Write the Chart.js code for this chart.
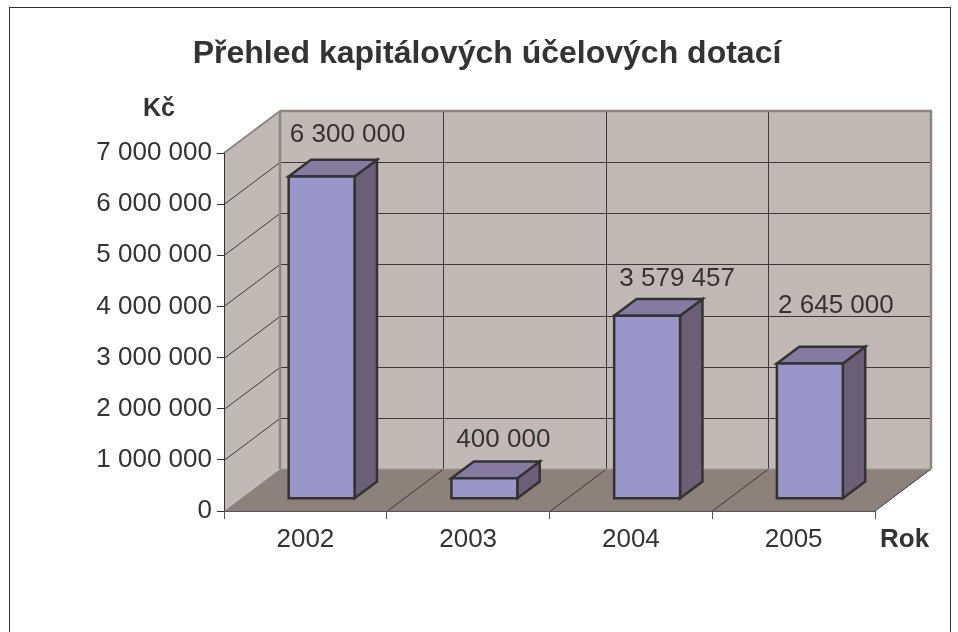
<!DOCTYPE html>
<html>
<head>
<meta charset="utf-8">
<script src="https://cdn.jsdelivr.net/npm/chart.js@4/dist/chart.umd.min.js"></script>
<style>
  body { margin: 0; background: #fff; }
  #wrap { width: 958px; height: 632px; }
</style>
</head>
<body>
<div id="wrap"><canvas id="chart" width="958" height="632"></canvas></div>
<script>
// data
var years = ['2002', '2003', '2004', '2005'];
var dotace = [6300000, 400000, 3579457, 2645000];
var yTicks = [0, 1000000, 2000000, 3000000, 4000000, 5000000, 6000000, 7000000];

var titleText = 'Přehled kapitálových účelových dotací';
var yAxisTitle = 'Kč';
var xAxisTitle = 'Rok';

// small hand nudges for the value labels (px)
var labelNudge = [[0, -3], [-7, 1], [4, 2], [0, -19]];

var FONT = '"Liberation Sans", Arial, Helvetica, sans-serif';
var DEPTH_X = 56, DEPTH_Y = 42;      // 3D depth of the wall/floor
var BAR_F = 0.29, BAR_B = 0.69;      // bar front/back depth as fraction

function fmt(v) {
    return String(v).replace(/\B(?=(\d{3})+(?!\d))/g, ' ');
}

function poly(ctx, pts, fill, stroke, lw) {
    ctx.beginPath();
    ctx.moveTo(pts[0][0], pts[0][1]);
    for (var i = 1; i < pts.length; i++) ctx.lineTo(pts[i][0], pts[i][1]);
    ctx.closePath();
    if (fill) { ctx.fillStyle = fill; ctx.fill(); }
    if (stroke) { ctx.strokeStyle = stroke; ctx.lineWidth = lw || 1; ctx.stroke(); }
}

function line(ctx, x1, y1, x2, y2, color, lw) {
    ctx.beginPath();
    ctx.moveTo(x1, y1);
    ctx.lineTo(x2, y2);
    ctx.strokeStyle = color;
    ctx.lineWidth = lw || 1;
    ctx.stroke();
}

var walls3d = {
    id: 'walls3d',
    beforeDraw: function (chart) {
        var ctx = chart.ctx;
        var a = chart.chartArea;
        var ys = chart.scales.y, xs = chart.scales.x;
        var L = a.left, R = a.right, T = a.top, B = a.bottom;
        ctx.save();
        // outer frame
        ctx.strokeStyle = '#333';
        ctx.lineWidth = 1;
        ctx.strokeRect(9.5, 7.5, 941, 700);

        // back wall
        poly(ctx, [[L + DEPTH_X, T - DEPTH_Y], [R + DEPTH_X, T - DEPTH_Y], [R + DEPTH_X, B - DEPTH_Y], [L + DEPTH_X, B - DEPTH_Y]], '#c1b9b6');
        // left wall
        poly(ctx, [[L, T], [L + DEPTH_X, T - DEPTH_Y], [L + DEPTH_X, B - DEPTH_Y], [L, B]], '#c1b9b6');
        // floor
        poly(ctx, [[L, B], [R, B], [R + DEPTH_X, B - DEPTH_Y], [L + DEPTH_X, B - DEPTH_Y]], '#8d817c');

        // horizontal grid lines on back + left wall
        yTicks.forEach(function (v) {
            if (v === 0 || v === yTicks[yTicks.length - 1]) return;
            var py = Math.round(ys.getPixelForValue(v)) + 0.5;
            line(ctx, L + DEPTH_X, py - DEPTH_Y, R + DEPTH_X, py - DEPTH_Y, '#3a3a3a', 1);
            line(ctx, L, py, L + DEPTH_X, py - DEPTH_Y, '#3a3a3a', 1);
        });

        // category boundaries: back wall verticals + floor diagonals
        var step = (R - L) / years.length;
        for (var i = 1; i < years.length; i++) {
            var bx = Math.round(L + step * i) + 0.5;
            line(ctx, bx + DEPTH_X, T - DEPTH_Y, bx + DEPTH_X, B - DEPTH_Y, '#3a3a3a', 1);
            line(ctx, bx, B, bx + DEPTH_X, B - DEPTH_Y, '#3a3a3a', 1);
        }

        // wall edges
        line(ctx, L + DEPTH_X, T - DEPTH_Y, R + DEPTH_X + 1, T - DEPTH_Y, '#8e8480', 2.5);
        line(ctx, L + DEPTH_X, T - DEPTH_Y, L + DEPTH_X, B - DEPTH_Y, '#8e8480', 2.5);
        line(ctx, R + DEPTH_X, T - DEPTH_Y, R + DEPTH_X, B - DEPTH_Y, '#8e8480', 2.5);
        line(ctx, L, T, L + DEPTH_X, T - DEPTH_Y, '#8e8480', 2);
        line(ctx, R, B, R + DEPTH_X, B - DEPTH_Y, '#3a3a3a', 1);
        line(ctx, L + DEPTH_X, B - DEPTH_Y, R + DEPTH_X, B - DEPTH_Y, '#a39995', 1);
        ctx.restore();
    },
    afterDatasetsDraw: function (chart) {
        var ctx = chart.ctx;
        var meta = chart.getDatasetMeta(0);
        ctx.save();
        ctx.lineJoin = 'miter';
        meta.data.forEach(function (bar, i) {
            var w = bar.width;
            var fx = bar.x + DEPTH_X * BAR_F, fy = -DEPTH_Y * BAR_F;
            var dx = DEPTH_X * (BAR_B - BAR_F), dy = -DEPTH_Y * (BAR_B - BAR_F);
            var x0 = fx - w / 2, x1 = fx + w / 2;
            var top = bar.y + fy, bot = bar.base + fy;
            // side
            poly(ctx, [[x1, top], [x1 + dx, top + dy], [x1 + dx, bot + dy], [x1, bot]], '#6b5f78', '#333', 2.5);
            // top
            poly(ctx, [[x0, top], [x0 + dx, top + dy], [x1 + dx, top + dy], [x1, top]], '#857ba0', '#333', 2.5);
            // front
            poly(ctx, [[x0, top], [x1, top], [x1, bot], [x0, bot]], '#9b96c9', '#333', 2.5);

            // value label
            ctx.font = '26px ' + FONT;
            ctx.fillStyle = '#333';
            ctx.textAlign = 'center';
            ctx.textBaseline = 'alphabetic';
            ctx.fillText(fmt(dotace[i]), fx + 26 + labelNudge[i][0], top - 32 + labelNudge[i][1]);
        });

        // titles
        ctx.fillStyle = '#333';
        ctx.textAlign = 'center';
        ctx.font = 'bold 32px ' + FONT;
        ctx.fillText(titleText, 487, 63);
        ctx.textAlign = 'left';
        ctx.font = 'bold 25px ' + FONT;
        ctx.fillText(yAxisTitle, 143, 116);
        ctx.font = 'bold 26px ' + FONT;
        ctx.fillText(xAxisTitle, 880, 547);
        ctx.restore();
    }
};

var ctx = document.getElementById('chart').getContext('2d');
var chart = new Chart(ctx, {
    type: 'bar',
    data: {
        labels: years,
        datasets: [{
            data: dotace,
            backgroundColor: 'rgba(0,0,0,0)',
            borderWidth: 0,
            categoryPercentage: 1,
            barPercentage: 0.405
        }]
    },
    options: {
        responsive: false,
        animation: false,
        layout: { padding: { left: 0, right: 83, top: 153, bottom: 61 } },
        plugins: {
            legend: { display: false },
            tooltip: { enabled: false },
            title: { display: false }
        },
        scales: {
            y: {
                min: 0,
                max: 7000000,
                afterFit: function (scale) { scale.width = 224; },
                afterBuildTicks: function (scale) {
                    scale.ticks = yTicks.map(function (v) { return { value: v }; });
                },
                grid: { drawOnChartArea: false, drawTicks: true, tickLength: 7, color: '#333' },
                border: { display: true, color: '#333', width: 1 },
                ticks: {
                    padding: 5,
                    color: '#333',
                    font: { family: FONT, size: 26 },
                    callback: function (v) { return fmt(v); }
                }
            },
            x: {
                afterFit: function (scale) { scale.height = 60; },
                grid: { drawOnChartArea: false, drawTicks: true, tickLength: 8, color: '#555', offset: true },
                border: { display: true, color: '#555', width: 1 },
                ticks: {
                    padding: 5,
                    color: '#333',
                    font: { family: FONT, size: 26 }
                }
            }
        }
    },
    plugins: [walls3d]
});
</script>
</body>
</html>
